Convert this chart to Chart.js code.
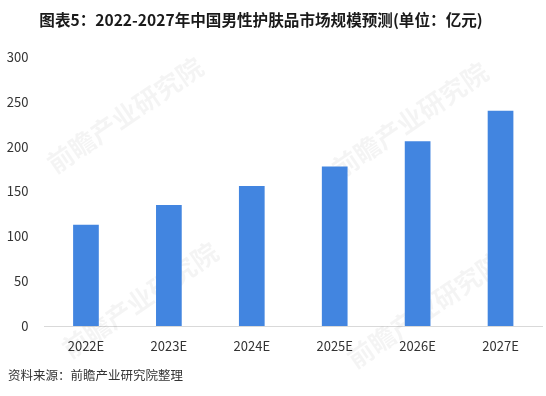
<!DOCTYPE html>
<html>
<head>
<meta charset="utf-8">
<script src="https://cdn.jsdelivr.net/npm/chart.js@4/dist/chart.umd.min.js"></script>
<style>
  html, body { margin: 0; padding: 0; background: #fff; }
  #wrap { width: 546px; height: 396px; position: relative; }
</style>
</head>
<body>
<div id="wrap"><canvas id="marketChart" width="546" height="396"></canvas></div>
<script>
// 2022-2027 male skincare market size forecast (unit: 100 million yuan)
const years = ['2022E', '2023E', '2024E', '2025E', '2026E', '2027E'];
const marketSize = [113, 135, 156, 178, 206, 240];
const yTicks = [0, 50, 100, 150, 200, 250, 300];

const titleText = '图表5：2022-2027年中国男性护肤品市场规模预测(单位：亿元)';
const sourceText = '资料来源：前瞻产业研究院整理';
const fontFamily = "'Microsoft YaHei', 'Noto Sans CJK SC', sans-serif";

// title, source line and faint watermark drawn straight on the canvas
const decorPlugin = {
  id: 'decor',
  beforeDatasetsDraw(chart) {
    const ctx = chart.ctx;
    ctx.save();
    ctx.fillStyle = 'rgba(0, 0, 0, 0.045)';
    ctx.font = 'bold 26px ' + fontFamily;
    ctx.textAlign = 'center';
    ctx.textBaseline = 'middle';
    [[125, 115], [410, 120], [140, 300], [425, 310]].forEach(([x, y]) => {
      ctx.save();
      ctx.translate(x, y);
      ctx.rotate(-0.6);
      ctx.fillText('前瞻产业研究院', 0, 0);
      ctx.restore();
    });
    ctx.restore();
  },
  afterDraw(chart) {
    const ctx = chart.ctx;
    ctx.save();
    ctx.fillStyle = '#1a1a1a';
    ctx.font = 'bold 15.6px ' + fontFamily;
    ctx.textAlign = 'center';
    ctx.textBaseline = 'middle';
    ctx.fillText(titleText, 261, 20);

    ctx.fillStyle = '#333';
    ctx.font = '12.5px ' + fontFamily;
    ctx.textAlign = 'left';
    ctx.fillText(sourceText, 8, 375);
    ctx.restore();
  }
};

const ctx = document.getElementById('marketChart').getContext('2d');
new Chart(ctx, {
  type: 'bar',
  data: {
    labels: years,
    datasets: [{
      data: marketSize,
      backgroundColor: '#4285E0',
      borderWidth: 0,
      categoryPercentage: 1,
      barPercentage: 0.31
    }]
  },
  options: {
    responsive: false,
    animation: false,
    devicePixelRatio: 1,
    layout: { padding: { top: 57, right: 4, bottom: 0, left: 0 } },
    plugins: {
      legend: { display: false },
      tooltip: { enabled: false },
      title: { display: false }
    },
    scales: {
      y: {
        min: 0,
        max: 300,
        afterFit(scale) { scale.width = 44.5; },
        afterBuildTicks(scale) { scale.ticks = yTicks.map(v => ({ value: v })); },
        grid: { display: false, drawTicks: false },
        border: { display: false },
        ticks: { color: '#333', padding: 16, font: { size: 13, family: fontFamily } }
      },
      x: {
        afterFit(scale) { scale.height = 70; },
        grid: { display: false, drawTicks: false },
        border: { display: true, color: '#d9d9d9', width: 1 },
        ticks: { color: '#333', padding: 12, font: { size: 13, family: fontFamily } }
      }
    }
  },
  plugins: [decorPlugin]
});
</script>
</body>
</html>
